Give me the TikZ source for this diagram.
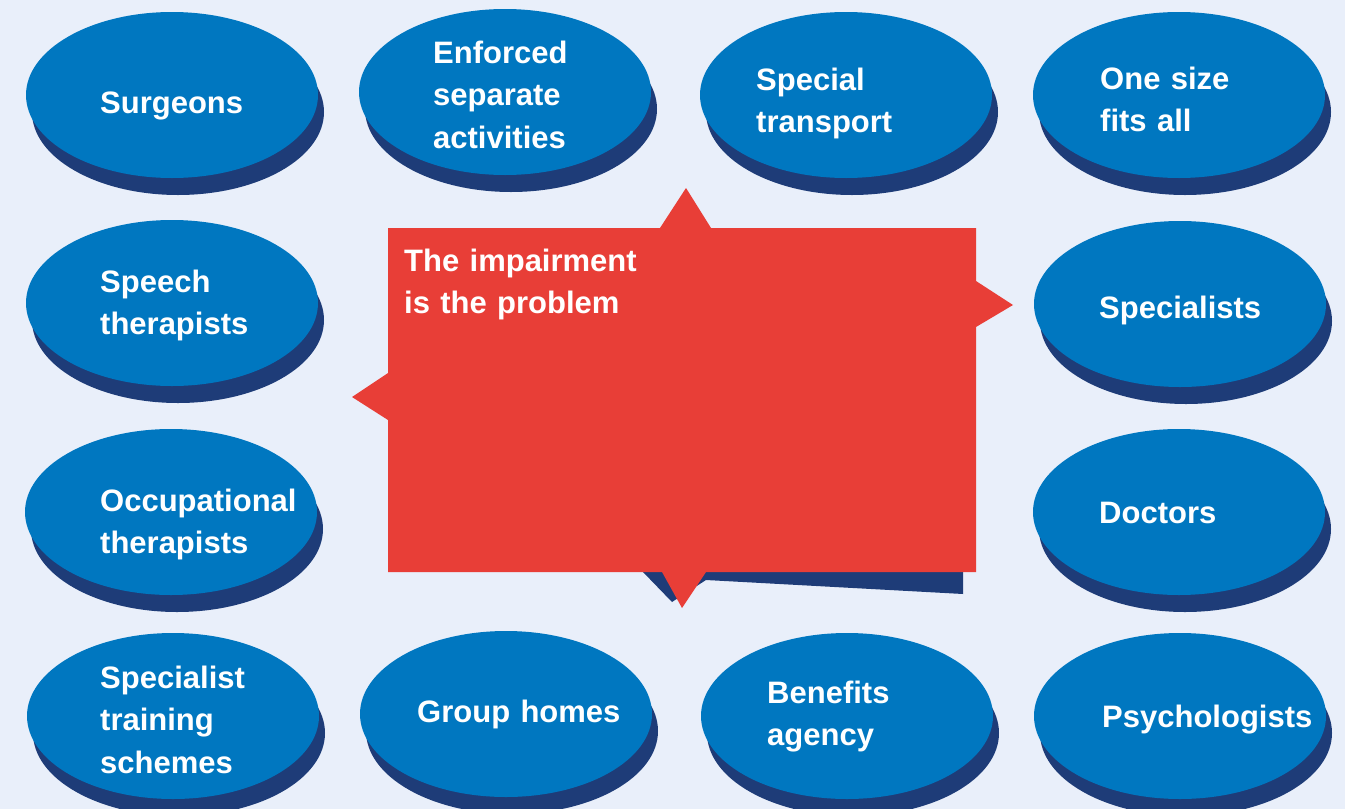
\documentclass[tikz,border=0pt]{standalone}
\usepackage{fontspec}
\setmainfont{Liberation Sans}
\usetikzlibrary{shapes.geometric,shadows}

\definecolor{pagebg}{RGB}{233,239,250}
\definecolor{blobblue}{RGB}{0,119,192}
\definecolor{blobshade}{RGB}{30,60,120}
\definecolor{probred}{RGB}{232,62,55}

\begin{document}
\begin{tikzpicture}[x=1pt,y=-1pt,
  blob/.style={ellipse,fill=blobblue,minimum width=292pt,minimum height=166pt,inner sep=0pt,
    drop shadow={shadow xshift=6pt,shadow yshift=-17pt,opacity=1,fill=blobshade}},
  lbl/.style={text=white,font=\bfseries\fontsize{31}{42.5}\selectfont,
    text width=240pt,align=left,inner sep=0pt,anchor=base west}]
  \useasboundingbox (0,0) rectangle (1345,809);
  \fill[pagebg] (0,0) rectangle (1345,809);

  % the ellipses, row by row
  \node[blob] (surg)    at (172,95)  {};
  \node[blob] (sepact)  at (505,92)  {};
  \node[blob] (transp)  at (846,95)  {};
  \node[blob] (onesize) at (1179,95) {};
  \node[blob] (speech)  at (172,303) {};
  \node[blob] (specl)   at (1180,304) {};
  \node[blob] (occup)   at (171,512) {};
  \node[blob] (doct)    at (1179,512) {};
  \node[blob] (train)   at (173,716) {};
  \node[blob] (homes)   at (506,714) {};
  \node[blob] (benef)   at (847,716) {};
  \node[blob] (psych)   at (1180,716) {};

  \node[lbl] (surgT)    at (100,113)  {Surgeons};
  \node[lbl] (sepactT)  at (433,63)   {Enforced\\separate\\activities};
  \node[lbl] (transpT)  at (756,90)   {Special\\transport};
  \node[lbl] (onesizeT) at (1100,89)  {One size\\fits all};
  \node[lbl] (speechT)  at (100,292)  {Speech\\therapists};
  \node[lbl] (speclT)   at (1099,318) {Specialists};
  \node[lbl] (occupT)   at (100,511)  {Occupational\\therapists};
  \node[lbl] (doctT)    at (1099,523) {Doctors};
  \node[lbl] (trainT)   at (100,688)  {Specialist\\training\\schemes};
  \node[lbl] (homesT)   at (417,722)  {Group homes};
  \node[lbl] (benefT)   at (767,703)  {Benefits\\agency};
  \node[lbl] (psychT)   at (1102,727) {Psychologists};

  % the middle box with its points
  \fill[blobshade] (400,240) -- (963,240) -- (963,594) -- (706,580) -- (672,602)
    -- (643,572) -- (400,565) -- cycle;
  \fill[probred] (388,228) -- (660,228) -- (686,188) -- (711,228) -- (976,228)
    -- (976,281) -- (1013,305) -- (976,327) -- (976,572) -- (706,572) -- (682,608)
    -- (662,572) -- (388,572) -- (388,420) -- (352,397) -- (388,373) -- cycle;
  \node[lbl] (imp) at (404,271) {The impairment\\is the problem};
\end{tikzpicture}
\end{document}
